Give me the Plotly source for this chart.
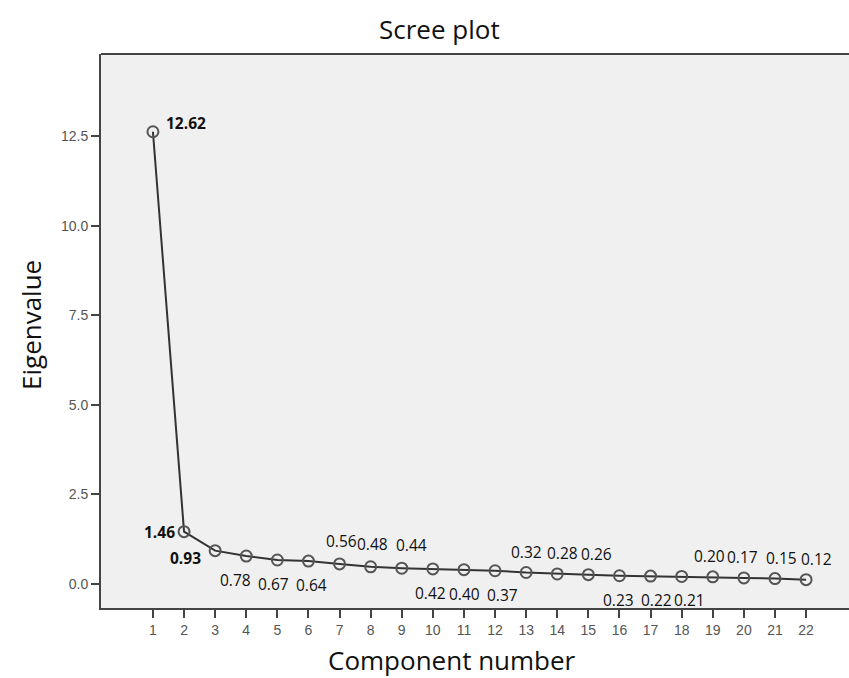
import plotly.graph_objects as go

components = list(range(1, 23))
eigenvalues = [12.62, 1.46, 0.93, 0.78, 0.67, 0.64, 0.56, 0.48, 0.44, 0.42, 0.40,
               0.37, 0.32, 0.28, 0.26, 0.23, 0.22, 0.21, 0.20, 0.17, 0.15, 0.12]
value_labels = ["12.62", "1.46", "0.93", "0.78", "0.67", "0.64", "0.56", "0.48", "0.44",
                "0.42", "0.40", "0.37", "0.32", "0.28", "0.26", "0.23", "0.22", "0.21",
                "0.20", "0.17", "0.15", "0.12"]
x_tick_labels = [str(c) for c in components]
y_tick_vals = [0.0, 2.5, 5.0, 7.5, 10.0, 12.5]
y_tick_labels = ["0.0", "2.5", "5.0", "7.5", "10.0", "12.5"]

# label placement style (pixel offsets relative to each point)
label_bold = [True, True, True] + [False] * 19
label_dx = [33, -25, -30, -11, -4, 3, 2, 2, 10, -2, 1, 7, 0, 5, 8, -1, 6, 8, -3, -1, 7, 10]
label_dy = [9, 0, -7, -24, -24, -24, 23, 23, 23, -24, -24, -24, 21, 21, 21, -24, -24, -24,
            21, 21, 21, 21]

FONT = "Open Sans"

fig = go.Figure()
fig.add_trace(go.Scatter(
    x=components, y=eigenvalues, mode="lines+markers",
    line=dict(color="#333333", width=2),
    marker=dict(symbol="circle-open", size=11, color="#555555", line=dict(width=2, color="#555555")),
    hoverinfo="x+y", showlegend=False,
))

annotations = []
for x, y, t, b, dx, dy in zip(components, eigenvalues, value_labels, label_bold, label_dx, label_dy):
    annotations.append(dict(
        x=x, y=y, xref="x", yref="y", text=f"<b>{t}</b>" if b else t,
        showarrow=False, xshift=dx, yshift=dy,
        font=dict(family=FONT, size=15.5, color="#111111"),
    ))

annotations += [
    dict(text="Scree plot", x=439, y=29, xref="paper", yref="paper", showarrow=False,
         font=dict(family=FONT, size=26, color="#111111")),
    dict(text="Component number", x=452, y=660, xref="paper", yref="paper", showarrow=False,
         font=dict(family=FONT, size=26, color="#111111")),
    dict(text="Eigenvalue", x=31, y=325, xref="paper", yref="paper", showarrow=False, textangle=-90,
         font=dict(family=FONT, size=26, color="#111111")),
]

# convert pixel-positioned text annotations to paper coords
L, R, T, B, W, H = 101, 0, 54, 70, 849, 678
pw, ph = W - L - R, H - T - B
for a in annotations[-3:]:
    a["x"] = (a["x"] - L) / pw
    a["y"] = (H - B - a["y"]) / ph
    a["xanchor"] = "center"
    a["yanchor"] = "middle"

fig.update_layout(
    width=W, height=H,
    margin=dict(l=L, r=R, t=T, b=B, pad=0),
    paper_bgcolor="white", plot_bgcolor="#f0f0f0",
    annotations=annotations,
    shapes=[dict(type="line", xref="paper", yref="paper", x0=0, x1=1, y0=1, y1=1,
                 line=dict(color="#444444", width=2))],
    xaxis=dict(range=[-0.67, 23.38], tickvals=components, ticktext=x_tick_labels,
               showgrid=False, zeroline=False, showline=True, linecolor="#444444", linewidth=2,
               ticks="outside", ticklen=8, tickwidth=2, tickcolor="#444444",
               tickfont=dict(family="Liberation Sans", size=14, color="#555555")),
    yaxis=dict(range=[-0.67, 14.79], tickvals=y_tick_vals, ticktext=y_tick_labels,
               showgrid=False, zeroline=False, showline=True, linecolor="#444444", linewidth=2,
               ticks="outside", ticklen=8, tickwidth=2, tickcolor="#444444",
               tickfont=dict(family="Liberation Sans", size=14, color="#555555")),
)

fig.write_html("out.html", config={"displayModeBar": False},
               post_script="document.body.style.margin='0';document.body.style.overflow='hidden';")
